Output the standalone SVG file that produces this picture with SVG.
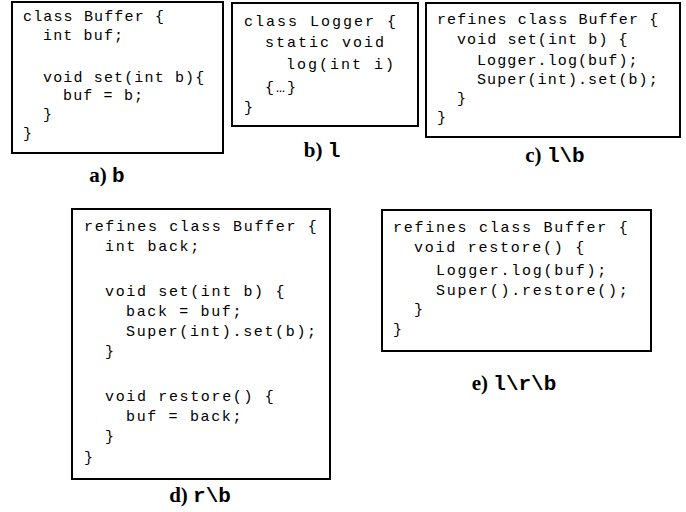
<svg xmlns="http://www.w3.org/2000/svg" width="686" height="512" viewBox="0 0 686 512">
<style>
.box{fill:#fff;stroke:#000;stroke-width:2}
.code{font-family:"Liberation Mono","Courier New",monospace;font-size:15px;fill:#000}
.sa{letter-spacing:1.15px}
.sb{letter-spacing:2px}
.sc{letter-spacing:1.1px}
.sd{letter-spacing:1.65px}
.se{letter-spacing:1.75px}
.lab{font-family:"Liberation Serif","Times New Roman",serif;font-weight:bold;font-size:21px;fill:#000}
.lm{font-family:"Liberation Mono","Courier New",monospace;font-weight:bold}
</style>
<rect width="686" height="512" fill="#fff"/>
<g id="node-a">
<rect class="box" x="12" y="2" width="211" height="151"/>
<g class="code sa">
<text x="23" y="21">class Buffer {</text>
<text x="43" y="40">int buf;</text>
<text x="43" y="82">void set(int b){</text>
<text x="63" y="100">buf = b;</text>
<text x="43" y="119">}</text>
<text x="23" y="138">}</text>
</g>
<text class="lab" x="107" y="182" text-anchor="middle">a) <tspan class="lm">b</tspan></text>
</g>
<g id="node-b">
<rect class="box" x="232" y="3" width="186" height="123"/>
<g class="code sb">
<text x="244" y="26">class Logger {</text>
<text x="265" y="47">static void</text>
<text x="286" y="69">log(int i)</text>
<text x="265" y="92">{…}</text>
<text x="244" y="112">}</text>
</g>
<text class="lab" x="322" y="157" text-anchor="middle">b) <tspan class="lm">l</tspan></text>
</g>
<g id="node-c">
<rect class="box" x="426" y="3" width="254" height="134"/>
<g class="code sc">
<text x="437" y="24">refines class Buffer {</text>
<text x="457" y="44">void set(int b) {</text>
<text x="477" y="65">Logger.log(buf);</text>
<text x="477" y="84">Super(int).set(b);</text>
<text x="457" y="103">}</text>
<text x="437" y="122">}</text>
</g>
<text class="lab" x="555" y="162" text-anchor="middle">c) <tspan class="lm">l\b</tspan></text>
</g>
<g id="node-d">
<rect class="box" x="72" y="209" width="258" height="270"/>
<g class="code sd">
<text x="84" y="231">refines class Buffer {</text>
<text x="105" y="251">int back;</text>
<text x="105" y="296">void set(int b) {</text>
<text x="126" y="316">back = buf;</text>
<text x="126" y="336">Super(int).set(b);</text>
<text x="105" y="356">}</text>
<text x="105" y="401">void restore() {</text>
<text x="126" y="421">buf = back;</text>
<text x="105" y="441">}</text>
<text x="84" y="462">}</text>
</g>
<text class="lab" x="200" y="502" text-anchor="middle">d) <tspan class="lm">r\b</tspan></text>
</g>
<g id="node-e">
<rect class="box" x="382" y="210" width="269" height="141"/>
<g class="code se">
<text x="393" y="232">refines class Buffer {</text>
<text x="414" y="252">void restore() {</text>
<text x="436" y="275">Logger.log(buf);</text>
<text x="436" y="295">Super().restore();</text>
<text x="414" y="314">}</text>
<text x="393" y="334">}</text>
</g>
<text class="lab" x="514" y="390" text-anchor="middle">e) <tspan class="lm">l\r\b</tspan></text>
</g>
<g id="connectors"></g>
</svg>
